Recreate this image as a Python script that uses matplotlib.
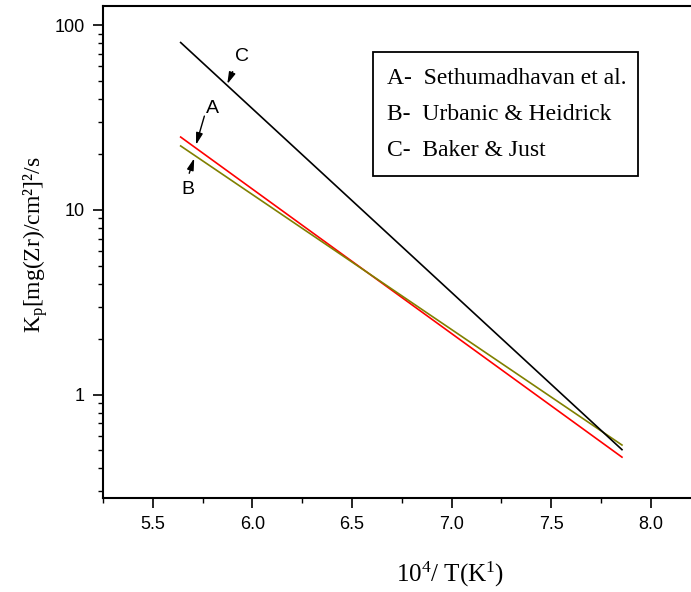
import matplotlib
matplotlib.use("Agg")
import matplotlib.pyplot as plt
from matplotlib.ticker import LogLocator, NullFormatter, FixedLocator, MultipleLocator
from matplotlib.patches import Rectangle

serif = "Liberation Serif"
plt.rcParams["mathtext.fontset"] = "custom"
plt.rcParams["mathtext.rm"] = serif
plt.rcParams["mathtext.it"] = serif + ":italic"

# Data
x_ends = [5.64, 7.855]
kp_A = [24.8, 0.46]   # Sethumadhavan et al.
kp_B = [22.2, 0.535]  # Urbanic & Heidrick
kp_C = [80.5, 0.505]  # Baker & Just
legend_lines = ["A-  Sethumadhavan et al.", "B-  Urbanic & Heidrick", "C-  Baker & Just"]
xticks = [5.5, 6.0, 6.5, 7.0, 7.5, 8.0]
yticks = [1, 10, 100]
ytick_labels = ["1", "10", "100"]

fig = plt.figure(figsize=(6.91, 5.92), dpi=100)
ax = fig.add_axes([0.149, 0.159, 0.865, 0.831])

ax.plot(x_ends, kp_A, color="#ff0000", lw=1.2)
ax.plot(x_ends, kp_B, color="#808000", lw=1.2)
ax.plot(x_ends, kp_C, color="black", lw=1.2)

ax.set_yscale("log")
ax.set_xlim(5.25, 8.25)
ax.set_ylim(0.277, 127)

ax.xaxis.set_major_locator(FixedLocator(xticks))
ax.xaxis.set_minor_locator(MultipleLocator(0.25))
ax.set_xticklabels([f"{v:.1f}" for v in xticks])
ax.yaxis.set_major_locator(FixedLocator(yticks))
ax.set_yticklabels(ytick_labels)
ax.yaxis.set_minor_locator(LogLocator(base=10, subs=range(2, 10)))
ax.yaxis.set_minor_formatter(NullFormatter())

for lab in ax.get_xticklabels() + ax.get_yticklabels():
    lab.set_family("Liberation Sans")
    lab.set_fontsize(13)

ax.tick_params(axis="both", which="major", direction="out", length=7, width=1.2, pad=6)
ax.tick_params(axis="both", which="minor", direction="out", length=3.8, width=1.0)

for s in ["left", "bottom", "top"]:
    ax.spines[s].set_linewidth(1.5)
ax.spines["right"].set_visible(False)

ax.set_xlabel("10$^{4}$/ T(K$^{1}$)", family=serif, fontsize=18)
ax.xaxis.set_label_coords(0.5806, -0.127)
ax.set_ylabel("K$_{\\mathrm{p}}$[mg(Zr)/cm²]²/s", family=serif, fontsize=17)
ax.yaxis.set_label_coords(-0.089, 0.514)

# Legend box (drawn as text + rectangle, in figure coordinates)
fig.patches.append(Rectangle((0.540, 0.703), 0.383, 0.209, transform=fig.transFigure,
                             fill=False, ec="black", lw=1.3))
for txt, yy in zip(legend_lines, [0.8666, 0.8074, 0.7466]):
    fig.text(0.560, yy, txt, family=serif, fontsize=17, va="center", ha="left")

# Arrow annotations
arrowprops = dict(arrowstyle="-|>,head_length=0.7,head_width=0.2", color="black", lw=1.0,
                  shrinkA=0, shrinkB=0)
lblkw = dict(family="Liberation Sans", fontsize=14, ha="center", va="center")
ax.text(5.946, 67.5, "C", **lblkw)
ax.annotate("", xy=(5.874, 48.0), xytext=(5.901, 56.0), arrowprops=arrowprops)
ax.text(5.801, 35.5, "A", **lblkw)
ax.annotate("", xy=(5.717, 22.5), xytext=(5.759, 32.2), arrowprops=arrowprops)
ax.text(5.675, 12.83, "B", **lblkw)
ax.annotate("", xy=(5.708, 19.04), xytext=(5.683, 15.79), arrowprops=arrowprops)

fig.savefig("out.png", dpi=100)
